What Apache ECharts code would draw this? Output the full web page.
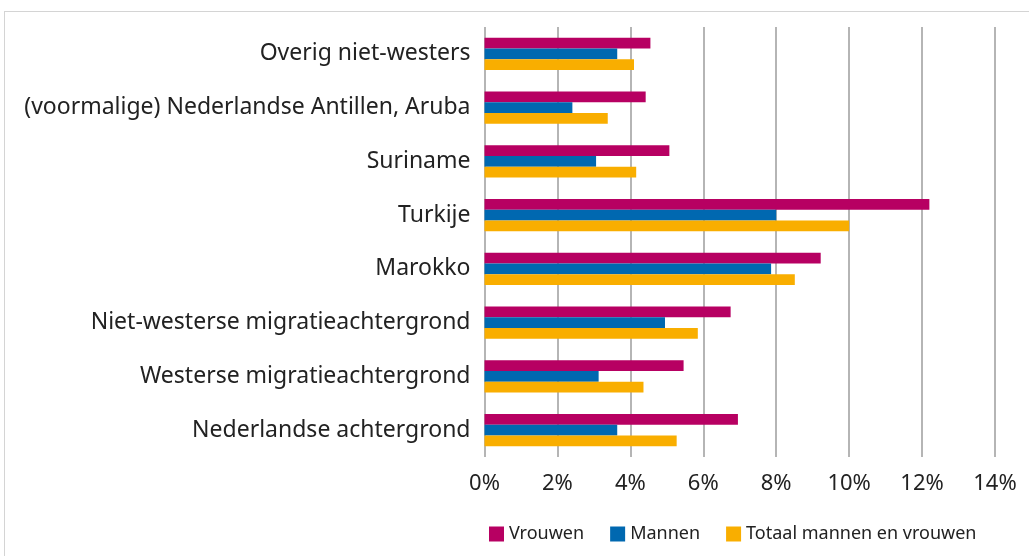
<!DOCTYPE html>
<html>
<head>
<meta charset="utf-8">
<script src="https://cdn.jsdelivr.net/npm/echarts@6/dist/echarts.min.js"></script>
<style>
  html, body { margin: 0; padding: 0; background: #fff; }
  #frame { position: absolute; left: 4px; top: 11px; width: 1040px; height: 560px; border: 1px solid #d4d4d4; box-sizing: border-box; }
  #chart { position: absolute; left: 0; top: 0; width: 1029px; height: 556px; }
</style>
</head>
<body>
<div id="frame"></div>
<div id="chart"></div>
<script>
// categories, bottom to top (as on the y axis)
var categories = [
    'Nederlandse achtergrond',
    'Westerse migratieachtergrond',
    'Niet-westerse migratieachtergrond',
    'Marokko',
    'Turkije',
    'Suriname',
    '(voormalige) Nederlandse Antillen, Aruba',
    'Overig niet-westers'
];
var vrouwen = [6.95, 5.46, 6.75, 9.22, 12.2, 5.07, 4.42, 4.55];
var mannen  = [3.64, 3.13, 4.95, 7.86, 8.0, 3.06, 2.41, 3.64];
var totaal  = [5.27, 4.36, 5.85, 8.51, 10.0, 4.16, 3.38, 4.10];
var seriesNames = ['Vrouwen', 'Mannen', 'Totaal mannen en vrouwen'];
var colors = ['#b70062', '#0068b0', '#f9ae00'];

var myChart = echarts.init(document.getElementById('chart'));
var font = '"Noto Sans", sans-serif';

var option = {
    color: colors,
    textStyle: { fontFamily: font },
    grid: { left: 484.5, right: 34, top: 27, bottom: 99, containLabel: false },
    legend: {
        data: seriesNames,
        top: 520,
        left: 484,
        itemWidth: 15,
        itemHeight: 15,
        itemGap: 26,
        icon: 'rect',
        textStyle: { fontSize: 18, color: '#222', fontFamily: font }
    },
    xAxis: {
        type: 'value',
        min: 0,
        max: 14,
        interval: 2,
        axisLabel: { formatter: '{value}%', fontSize: 22, color: '#222', margin: 16, fontFamily: font },
        axisLine: { show: false },
        axisTick: { show: false },
        splitLine: { lineStyle: { color: '#b5b5b5', width: 2 } }
    },
    yAxis: {
        type: 'category',
        data: categories,
        axisLabel: { fontSize: 23, color: '#222', margin: 14, padding: [5, 0, 0, 0], fontFamily: font },
        axisLine: { show: false },
        axisTick: { show: false }
    },
    series: [
        { name: seriesNames[0], type: 'bar', data: vrouwen, barGap: '0%', barCategoryGap: '40%' },
        { name: seriesNames[1], type: 'bar', data: mannen, barGap: '0%', barCategoryGap: '40%' },
        { name: seriesNames[2], type: 'bar', data: totaal, barGap: '0%', barCategoryGap: '40%' }
    ]
};
myChart.setOption(option);
</script>
</body>
</html>
